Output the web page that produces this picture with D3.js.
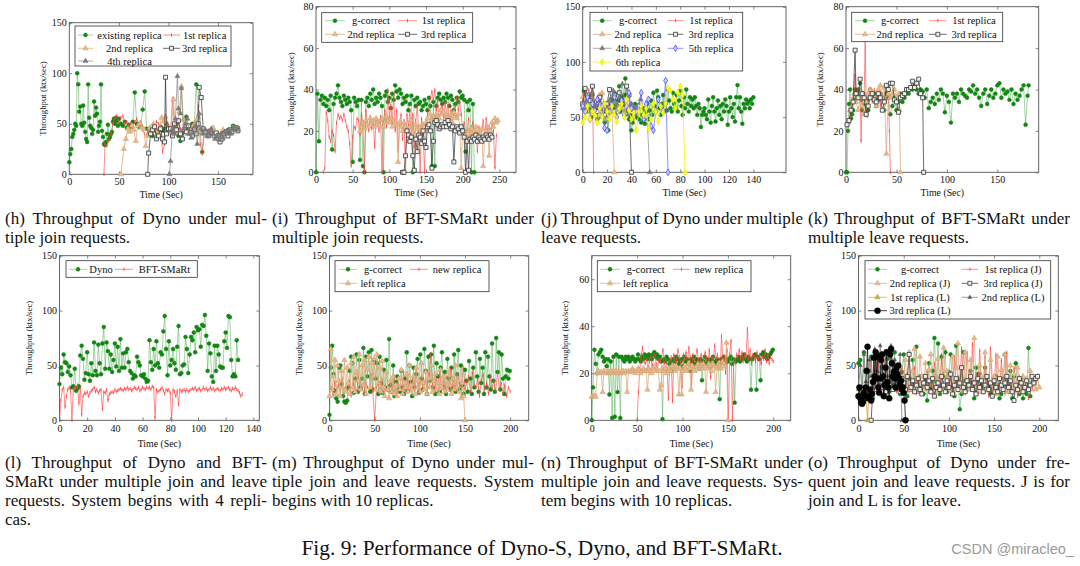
<!DOCTYPE html>
<html><head><meta charset="utf-8">
<script src="https://cdn.jsdelivr.net/npm/d3@7"></script>
<style>html,body{margin:0;padding:0;background:#fff;overflow:hidden}svg{display:block}</style>
</head><body><svg id="c" width="1080" height="566"></svg>
<script>
// ---------------- DATA ----------------
// (h) Dyno, multiple join
const hExisting=[[0,12],[1,20],[2,25],[3,37],[4,40],[5,44],[6,50],[7,48],[8,100],[9,89],[10,62],[11,67],[12,50],[13,48],[14,68],[15,51],[16,42],[17,35],[18,32],[19,89],[20,56],[21,48],[22,46],[23,40],[24,44],[25,72],[26,58],[27,66],[28,60],[29,42],[30,48],[31,52],[32,89],[33,43],[34,37],[35,30],[36,29],[37,32],[38,40],[39,49],[40,35],[41,37],[42,40],[43,42],[44,52],[45,55],[46,50],[47,56],[48,53],[49,48],[50,55],[52,50],[54,48],[56,52],[58,46],[60,49],[62,47],[64,52],[66,81],[68,50],[70,47],[72,48],[74,64],[76,82],[78,45],[80,40],[82,43],[84,38],[86,45],[88,42],[90,44],[92,47],[94,43],[96,45],[98,50],[100,46],[102,44],[104,47],[106,42],[108,45],[110,38],[112,33],[114,35],[116,44],[118,57],[120,44],[122,46],[124,50],[126,46],[128,89],[130,56],[132,42],[134,22],[136,44],[140,42],[145,40],[150,38],[155,42],[160,44],[165,48],[170,46]];
const hFirst=[[35,0],[36,30],[38,28],[40,34],[42,40],[44,50],[46,56],[48,58],[50,52],[52,56],[54,58],[56,50],[58,52],[60,48],[62,50],[64,46],[66,52],[68,55],[70,50],[72,52],[74,44],[76,40],[78,38],[80,45],[82,47],[84,42],[86,46],[88,52],[90,50],[92,48],[94,22],[96,30],[98,55],[100,48],[102,38],[104,75],[106,48],[108,42],[110,55],[112,45],[114,40],[116,48],[118,50],[120,46],[122,44],[124,48],[126,52],[128,45],[130,68],[132,30],[134,20],[136,42],[140,44],[145,42],[150,40],[155,38],[160,42],[165,45],[170,44]];
const hSecond=[[52,0],[55,25],[57,35],[59,45],[61,42],[63,48],[65,44],[67,33],[69,48],[71,50],[73,46],[75,45],[77,28],[79,38],[81,46],[83,44],[85,50],[87,43],[89,40],[91,46],[93,56],[95,52],[97,57],[99,45],[101,44],[103,48],[105,74],[107,44],[109,50],[111,62],[113,87],[115,54],[117,44],[119,40],[121,46],[123,42],[125,48],[127,50],[129,55],[131,42],[133,45],[135,44],[140,42],[145,46],[150,40],[155,44],[160,42],[165,46],[170,45]];
const hThird=[[79,0],[80,21],[82,40],[84,44],[86,47],[88,35],[90,38],[92,45],[94,35],[96,32],[97,96],[98,40],[100,45],[102,45],[104,38],[106,50],[108,44],[110,53],[112,40],[114,35],[116,44],[118,42],[120,48],[122,41],[124,38],[126,44],[128,40],[130,50],[131,86],[133,76],[135,45],[137,42],[140,38],[142,42],[144,40],[146,38],[148,41],[150,38],[152,32],[154,35],[156,40],[158,42],[160,38],[162,44],[164,42],[166,45],[168,46],[170,43]];
const hFourth=[[101,0],[102,13],[104,45],[106,40],[107,55],[109,97],[110,65],[112,60],[113,85],[115,45],[117,50],[119,55],[121,40],[123,36],[125,42],[127,48],[129,30],[131,60],[133,45],[135,40],[137,44],[139,38],[141,42],[143,45],[145,40],[147,35],[149,38],[151,34],[153,40],[155,36],[157,42],[159,40],[161,44],[163,40],[165,45],[167,47],[169,44]];

// (i) BFT-SMaRt, multiple join  (sampled every 2 s)
const iGreen=[0,38,15,35,37,33,36,32,35,30,37,11,33,36,38,42,36,34,32,37,35,33,36,34,30,5,36,34,32,35,6,35,3,0,34,36,32,38,35,40,33,36,34,38,36,32,0,37,39,34,36,31,38,35,42,39,36,40,38,33,36,34,37,30,33,37,0,35,32,36,33,34,30,32,35,33,30,36,32,3,34,3,32,36,38,35,33,36,34,38,36,32,37,35,30,33,36,34,39,36,37,35,10,34,30,35,0,33,0];
const iRed=[0,2,29,25,17,15,20,18,10,24,28,26,27,25,28,25,22,20,14,3,17,22,21,26,25,18,28,22,0,30,24,20,27,21,25,12,26,23,20,27,0,24,30,22,40,26,32,24,38,20,30,10,24,28,16,25,0,28,22,30,15,28,12,25,32,20,0,26,18,0,22,28,30,36,39,35,40,30,35,25,30,32,26,34,28,33,22,30,24,28,32,36,30,34,28,20,24,15,20,26,16,22,24,18,20,10,22,16,20,25,18,26,20,22,17,24,20,2,18];
const iTan=[20,22,24,21,25,23,22,26,24,25,22,26,24,23,25,26,22,24,27,25,24,26,22,25,24,23,5,24,22,20,24,22,21,15,22,25,20,18,23,21,10,22,19,23,20,24,26,22,28,25,27,26,28,27,26,30,28,29,26,28,27,26,28,24,29,27,26,28,22,2,22,20,18,16,20,18,21,17,20,22,18,20,16,21,3,18,20,22,8,20,24,22,26,24,25];
const iBlack=[0,0,8,20,18,15,17,8,1,16,10,18,17,14,20,15,12,22,23,20,2,15,24,25,23,21,22,23,22,24,22,25,23,21,22,5,20,22,21,19,22,20,17,0,15,1,16,15,17,16,18,15,17,16,15,17,16,18,17,16,18,17];

// (j) Dyno, multiple leave
const jGreen=[60,74,62,55,68,58,65,50,70,62,55,60,48,65,58,70,52,60,45,55,48,38,62,55,66,58,72,52,60,65,78,55,68,62,70,85,60,55,48,52,38,45,58,62,50,55,48,60,45,52,58,44,55,62,48,56,65,52,72,60,55,74,68,58,52,62,70,55,62,56,75,65,58,55,72,62,58,70,55,65,74,60,52,68,58,75,62,55,68,60,66,58,68,60,52,62,58,41,52,55,58,52,48,66,55,45,60,68,55,46,58,65,52,60,48,62,55,66,60,43,55,68,58,50,62,46,68,79,58,68,55,44,62,58,66,62,64,58,66,62,68];
const jRed=[65,70,72,60,68,75,65,72,78,0];
const jTan=[68,60,55,66,72,62,55,70,72,58,48,62,55,0];
const jBlack=[62,76,70,65,78,60,55,68,58,52,62,75,62,70,60,72,65,58,78,70,0];
const jGray=[58,64,55,72,60,66,50,62,58,66,74,60,68,80,56,52,62,58,60,66,48,58,0];
const jBlue=[60,55,68,48,62,56,66,52,60,40,38,55,60,68,50,56,65,52,60,72,58,50,55,60,72,48,62,66,42,38,55,66,60,56,83,0];
const jYellow=[45,50,60,48,55,52,45,58,50,62,55,48,60,52,46,58,62,50,66,56,48,54,38,55,60,52,58,40,48,62,55,46,60,54,62,76,74,66,58,72,78,70,0];

// (k) BFT-SMaRt, multiple leave
const kGreen=[[0,0],[1,0],[2,20],[3,33],[4,40],[5,26],[6,28],[7,30],[8,35],[9,40],[10,38],[11,36],[12,40],[13,36],[14,43],[15,35],[16,30],[17,38],[18,36],[19,33],[20,28],[21,35],[22,30],[23,38],[24,40],[25,37],[26,36],[28,38],[30,32],[32,35],[34,38],[36,36],[38,30],[40,38],[42,36],[44,28],[46,32],[48,36],[50,30],[52,34],[54,38],[56,34],[58,36],[60,40],[62,38],[64,41],[66,40],[68,42],[70,40],[72,38],[74,40],[76,39],[78,36],[80,40],[82,31],[84,34],[86,36],[88,33],[90,38],[92,35],[94,40],[96,38],[98,29],[100,37],[102,34],[104,24],[106,38],[108,36],[110,38],[112,34],[114,40],[116,38],[118,37],[120,36],[122,40],[124,39],[126,42],[128,38],[130,40],[132,36],[134,32],[136,38],[138,40],[140,33],[142,37],[144,40],[146,36],[148,38],[150,42],[152,43],[154,36],[156,40],[158,38],[160,39],[162,35],[164,40],[166,33],[168,38],[170,35],[172,37],[174,40],[176,42],[178,23],[180,37],[181,42]];
const kRed=[[2,22],[4,26],[6,32],[8,40],[9,47],[10,38],[12,40],[14,38],[15,15],[16,38],[18,35],[19,66],[20,30],[21,27],[22,36],[24,38],[26,35],[28,40],[30,36],[32,38],[34,32],[36,38],[38,36],[40,35],[42,38],[43,20],[44,0]];
const kTan=[[2,24],[4,30],[6,35],[8,38],[10,34],[12,30],[14,36],[16,32],[18,28],[20,34],[22,38],[24,40],[26,36],[28,34],[30,32],[32,40],[34,42],[36,36],[38,41],[40,9],[42,38],[44,36],[46,38],[48,40],[50,36],[52,38],[53,30],[54,0]];
const kBlack=[[1,23],[3,25],[5,30],[7,34],[9,59],[10,38],[12,36],[14,45],[16,38],[18,36],[20,28],[22,32],[24,36],[26,38],[28,35],[30,34],[32,38],[34,36],[36,30],[38,34],[40,42],[42,40],[44,43],[46,43],[48,35],[50,34],[52,29],[54,36],[56,37],[58,38],[60,40],[62,40],[64,41],[66,44],[68,41],[70,43],[72,45],[74,38],[76,36],[77,0]];

// (l) Dyno vs BFT-SMaRt (1 s samples)
const lDyno=[33,48,42,60,53,52,44,49,41,30,31,47,27,29,31,59,68,56,37,43,62,42,36,52,41,71,45,41,69,52,42,70,85,47,71,63,47,60,44,55,70,49,67,45,74,48,61,48,62,65,53,45,43,38,41,40,58,53,50,41,40,42,38,35,36,73,53,46,65,50,72,52,48,62,60,81,95,65,41,72,50,55,65,52,46,67,86,42,43,50,51,76,65,43,60,76,73,80,62,85,82,83,67,87,86,96,77,45,70,61,40,35,68,45,68,60,49,48,48,72,80,66,95,94,55,40,42,40,73,55];
const lBft=[0,18,28,30,12,22,28,30,27,0,28,30,30,32,15,30,5,22,25,24,26,22,25,27,28,30,26,28,25,27,28,10,26,25,28,18,24,25,26,25,28,26,27,28,29,28,27,29,28,30,28,29,27,28,30,29,28,30,27,28,30,29,28,30,29,30,28,31,30,2,28,26,27,28,30,27,24,28,27,28,25,0,28,26,22,27,14,28,26,27,28,26,28,26,27,28,29,28,30,27,28,29,27,28,30,28,29,27,28,30,28,29,27,28,29,28,27,29,28,30,28,29,30,28,27,29,28,30,28,27,25,22,24];

// (m) Dyno, join and leave
const mGreen=[5,48,68,42,27,20,17,48,50,33,22,17,16,18,30,45,58,52,25,38,60,26,55,30,38,66,24,58,40,62,26,64,28,55,38,52,24,58,34,25,46,30,55,28,74,32,26,50,22,35,40,28,26,45,30,24,38,62,27,50,35,22,48,30,42,56,25,60,38,28,65,45,24,58,36,60,30,68,24,52,40,26,48,62,30,44,24,56,38,28,48,30,60,26,42,64,28,50,32,24,46,36,26,54,38,24,48,30,62,40,26,56,34,48,24,62,30,58,40,28,70,36,26,75,44,62,28,60,38,24,40,46,38,45];
const mRed=[25,30,22,35,28,32,26,38,24,30,28,36,22,34,30,26,40,28,32,24,36,30,28,42,26,0,30,34,28,38,24,32,30,26,36,28,40,24,34,30,28,44,26,36,32,28,38,30,46,26,34,40,28,36,30,42,60,32,28,38,34,44,26,36,30,40,28,46,32,38,26,42,34,30,48,28,36,40,26,44,32,30,38,22,36,42,28,34,24,40,30,36,26,44,28,34,24,32,22,30,26];
const mTan=[22,65,28,40,55,24,50,36,22,45,30,55,26,48,34,24,52,30,58,26,44,36,60,28,50,32,55,24,46,58,30,52,40,56,28,60,34,48,26,54,30,22,44,28,20,36,26,40,24,32,22,38,28,46,24,34,30,42,26,50,32,28,40,24,48,30,36,26,52,34,28,44,24,38,30,50,26,36,42,28,34,24,46,30,40,26,36,28,44,32,24,38,28,50,30,36,26,20,34,22,0];

// (n) BFT-SMaRt, join and leave
const nGreen=[0,14,30,24,20,28,29,30,27,25,26,23,26,11,25,1,27,1.5,28,12,27,1,27,26,25,27,26,27,25,26,27,26,25,26,28,26,25,27,26,28,27,26,28,27,26,28,29,27,28,26,27,25,0.5,26,25,27,26,24,25,21,26,25,27,26,24,25,26,23,27,25,26,24,21,26,25,27,24,26,25,22,26,17,25,27,24,26,25,23,26,27,24,25,26,24,9,26,25,27,24,26,25,26,27,24,26,7.5,25,26,27,25,26,27,28,26,25,27,26,13,26,27,28,13,27,26,17,28,29,27,28,26,27,28,29,30];
const nRed=[0,12,22,28,31,25,24,26,22,25,27,23,26,28,24,22,26,25,27,30,24,26,22,9,25,27,8,28,24,26,30,27,25,14,28,26,29,24,31,27,15,28,25,27,30,26,24,28,22,27,29,26,24,30,18,27,25,32,26,28,24,22,36,25,27,20,30,0,28,34,0,26,24,28,27,30,26,29,25,28,27,39,26,30,24,28,27,25,29,26,28,24,27,26,30,25,28,24,27,26,25];
const nTan=[10,10,10.5,10,20,21,20,20.5,12,21,20,21,20,20.5,21,20,21,20.5,21,20,21,20,20.5,21,20,21,12,21,20.5,21,22,21,20,21,22,21,20,21,22,21,21,13,22,21,20,22,23,21,22,21,13,15,22,21,22,20,21,22,21,23,22,21,23,22,11,22,11,21,23,22,21,24,22,13,23,22,21,23,24,22,23,22,24,23,12,22,24,23,21,24,23,12,22,24,23,22,25,24,23,33,0];

// (o) Dyno, frequent join and leave
const oGreen=[52,55,30,62,22,28,45,58,20,36,60,25,38,48,22,30,56,26,40,32,62,28,35,24,44,60,30,22,38,28,55,34,67,26,40,30,24,38,18,52,28,45,75,35,70,24,58,40,62,26,44,60,30,22,68,38,10,24,62,36,28,30,45,35,20,48,42,42,32,26,48,38,30,24,22,34,40,28,20,24,38,60,32,26,45,20,40,52,28,24,38,20,30,24,66,22];
const oRedJ=[0,40,55,30,45,25,52,35,28,60,38,25,45,30,55,34,26,40,30,48,28,36,42,26,38,30,48,24,34,40,28,36,30,45,26,38,30,52,28,40,26,60,34,28,44,30,38,26,58,32,40,28,66,30,24,62,36,28,70,30,42,24,64,34,28,58,30,22,66,36,28,60,32,26,55,30,24,62,28,36,26,48,30,22,40,28,34,26,30,20,26,28,36];
const oTanJ=[40,55,30,62,28,45,65,35,26,58,40,30,52,28,46,60,32,40,26,56,34,28,66,30,45,38,28,58,24,48,70,32,40,26,62,36,28,55,30,75,34,26,50,40,28,62,30,36,55,28,40,24,58,32,46,28,60,36,26,50,30,42,28,48,34,26,40,30,38,28,45,32,36,28,40,30];
const oSqJ=[0,30,38,28,42,35,30,45,26,38,32,40,28,36,42,30,26,38,34,28,40,60,30,36,26,32,38,28,24,34,40,30,36,26,38,22,30,34,28,40,32,26,36,30,42,24,32,38,28,34,48,30,26,36,32,40,28,34,24,38,30,36,26,32,40,28,34,22,36,30,26,38,32,28,34,40,30,36,26,18,32,28,38,34,26,30,36,28,32,40,34,38,40];
const oOliveL=[[0,22],[2,25],[4,27],[6,24],[8,26],[10,0]];
const oGrayL=[28,50,22,60,35,25,55,40,30,65,45,28,68,50,35,62,40,30,68,45,55,40,30,60,0];
const oBlackL=[22,30,20,16,15,17,25,22,30,45,67,20,22,28,18,24,35,57,40,62,38,58,30,25,38,55,60,40,22,32,48,62,35,30,20,60,65,52,40,44,38,30,48,42,50,38,33,36,28,30,25,18,0];

const captionsTop=[
 ["(h) Throughput of Dyno under mul-","tiple join requests."],
 ["(i) Throughput of BFT-SMaRt under","multiple join requests."],
 ["(j) Throughput of Dyno under multiple","leave requests."],
 ["(k) Throughput of BFT-SMaRt under","multiple leave requests."]];
const captionsBottom=[
 ["(l) Throughput of Dyno and BFT-","SMaRt under multiple join and leave","requests. System begins with 4 repli-","cas."],
 ["(m) Throughput of Dyno under mul-","tiple join and leave requests. System","begins with 10 replicas."],
 ["(n) Throughput of BFT-SMaRt under","multiple join and leave requests. Sys-","tem begins with 10 replicas."],
 ["(o) Throughput of Dyno under fre-","quent join and leave requests. J is for","join and L is for leave."]];
const figTitle="Fig. 9: Performance of Dyno-S, Dyno, and BFT-SMaRt.";
const watermark="CSDN @miracleo_";

// ---------------- RENDER ----------------
const svg=d3.select('#c');
const SERIF='"Liberation Serif","Times New Roman",serif';
const reg=(t0,dt,vals)=>vals.map((v,i)=>[t0+i*dt,v]);

const barSym={draw(ctx,size){const h=Math.sqrt(size)/2;ctx.moveTo(0,-h);ctx.lineTo(0,h);}};
const STY={
 green:{line:'#3aa53a',lop:0.55,lw:0.85,sym:d3.symbolCircle,size:12,fill:'#138513',stroke:'#138513',sw:0.5},
 red:{line:'#ff4040',lop:0.8,lw:0.75,sym:barSym,size:12,fill:'none',stroke:'#ff4040',sw:0.8},
 tan:{line:'#dcaa7c',lop:0.9,lw:0.85,sym:d3.symbolTriangle,size:12,fill:'#e8b98d',stroke:'#cf9a68',sw:0.5},
 sq:{line:'#333',lop:0.85,lw:0.85,sym:d3.symbolSquare,size:16,fill:'#eeeeee',stroke:'#333',sw:0.8},
 gray:{line:'#8a8a8a',lop:0.9,lw:0.8,sym:d3.symbolTriangle,size:11,fill:'#7a7a7a',stroke:'#7a7a7a',sw:0.5},
 blue:{line:'#6e6eff',lop:0.9,lw:0.85,sym:d3.symbolDiamond,size:13,fill:'#c9c9ff',stroke:'#3c3cff',sw:0.7},
 yellow:{line:'#f2f200',lop:0.95,lw:0.85,sym:d3.symbolDiamond,size:13,fill:'#ffff00',stroke:'#e0e000',sw:0.5},
 olive:{line:'#bfb040',lop:0.9,lw:0.85,sym:d3.symbolTriangle,size:12,fill:'#c2b33e',stroke:'#a89a30',sw:0.5},
 graySm:{line:'#777',lop:0.9,lw:0.8,sym:d3.symbolTriangle,size:7,fill:'#555',stroke:'#555',sw:0.4},
 blackDot:{line:'#111',lop:0.9,lw:0.9,sym:d3.symbolCircle,size:28,fill:'#000',stroke:'#000',sw:0.5}
};

const panels=[
 {key:'h',L:69.3,R:253,T:22.7,B:174.3,xMax:185.2,yMax:150,xTicks:[0,50,100,150],yTicks:[0,50,100,150],ylabX:42.7,row:0,
  series:[['existing replica','green',hExisting],['1st replica','red',hFirst],['2nd replica','tan',hSecond],['3rd replica','sq',hThird],['4th replica','gray',hFourth]],
  leg:{x:75,y:26,w:156,h:40,rows:[9,22.3,35],cols:[[3,18,54.5],[88,105,129.7]]}},
 {key:'i',L:316,R:516,T:6.7,B:172.3,xMax:272.7,yMax:80,xTicks:[0,50,100,150,200,250],yTicks:[0,20,40,60,80],ylabX:290.7,row:0,
  series:[['g-correct','green',reg(0,2,iGreen)],['1st replica','red',reg(10,2,iRed)],['2nd replica','tan',reg(60,2,iTan)],['3rd replica','sq',reg(118,2,iBlack)]],
  leg:{x:321.7,y:12.7,w:151,h:29.6,rows:[8,21.6],cols:[[3.3,23.3,49.3],[76.3,95.3,121.8]]}},
 {key:'j',L:582.7,R:786,T:6.7,B:172.3,xMax:166.8,yMax:150,xTicks:[0,20,40,60,80,100,120,140],yTicks:[0,50,100,150],ylabX:552.7,row:0,
  series:[['g-correct','green',reg(0,1,jGreen)],['1st replica','red',reg(0,1,jRed)],['2nd replica','tan',reg(0,2,jTan)],['3rd replica','sq',reg(0,2,jBlack)],['4th replica','gray',reg(0,2.5,jGray)],['5th replica','blue',reg(0,2,jBlue)],['6th replica','yellow',reg(0,2,jYellow)]],
  leg:{x:590,y:12.3,w:152.7,h:58.7,rows:[8.4,22,36,49.7],cols:[[2.7,21.7,48],[77.7,93.3,121]]}},
 {key:'k',L:846,R:1038.7,T:6.7,B:172.3,xMax:191,yMax:80,xTicks:[0,50,100,150],yTicks:[0,20,40,60,80],ylabX:820,row:0,
  series:[['g-correct','green',kGreen],['1st replica','red',kRed],['2nd replica','tan',kTan],['3rd replica','sq',kBlack]],
  leg:{x:851.7,y:12.3,w:151,h:29.4,rows:[8.4,22],cols:[[3.3,23.3,48.3],[77.3,95,122.3]]}},
 {key:'l',L:59.5,R:259.3,T:255.7,B:420.3,xMax:144.3,yMax:150,xTicks:[0,20,40,60,80,100,120,140],yTicks:[0,50,100,150],ylabX:29,row:1,
  series:[['Dyno','green',reg(0,1,lDyno)],['BFT-SMaRt','red',reg(0,1,lBft)]],
  leg:{x:66,y:260.7,w:131.3,h:16.6,rows:[8.6],cols:[[3,21,35],[49,67,98.5]]}},
 {key:'m',L:329.5,R:528.7,T:255.7,B:420.3,xMax:220.5,yMax:150,xTicks:[0,50,100,150,200],yTicks:[0,50,100,150],ylabX:299,row:1,
  series:[['g-correct','green',reg(0,1.5,mGreen)],['new replica','red',reg(0,2,mRed)],['left replica','tan',reg(0,1.5,mTan)]],
  leg:{x:335,y:260.7,w:154,h:31,rows:[8.6,22.6],cols:[[4,22,48],[75,93,122]]}},
 {key:'n',L:591.7,R:790.7,T:255.7,B:420.3,xMax:219.2,yMax:70,xTicks:[0,50,100,150,200],yTicks:[0,20,40,60],ylabX:565,row:1,
  series:[['g-correct','green',reg(0,1.5,nGreen)],['new replica','red',reg(50,1.5,nRed)],['left replica','tan',reg(0,1.5,nTan)]],
  leg:{x:597.3,y:260.7,w:153.7,h:31,rows:[8.6,22.6],cols:[[2.7,22.7,48.4],[75.7,92.7,121.5]]}},
 {key:'o',L:858.5,R:1058.3,T:255.7,B:420.3,xMax:221,yMax:150,xTicks:[0,50,100,150,200],yTicks:[0,50,100,150],ylabX:828.3,row:1,
  series:[['g-correct','green',reg(0,2,oGreen)],['1st replica (J)','red',reg(10,2,oRedJ)],['2nd replica (J)','tan',reg(50,2,oTanJ)],['3rd replica (J)','sq',reg(14,2,oSqJ)],['1st replica (L)','olive',oOliveL],['2nd replica (L)','graySm',reg(0,2,oGrayL)],['3rd replica (L)','blackDot',reg(0,1,oBlackL)]],
  leg:{x:865,y:260.7,w:185.7,h:58.3,rows:[8.6,22.6,36.6,50],cols:[[3,22,55],[96.7,113,148]]}}
];

function drawMarkers(g,pts,st){
  const sym=d3.symbol().type(st.sym).size(st.size)();
  g.selectAll(null).data(pts).join('path').attr('d',sym)
   .attr('transform',d=>`translate(${d[0]},${d[1]})`)
   .attr('fill',st.fill).attr('stroke',st.stroke).attr('stroke-width',st.sw);
}

panels.forEach(p=>{
  const g=svg.append('g');
  const x=d3.scaleLinear().domain([0,p.xMax]).range([p.L,p.R]);
  const y=d3.scaleLinear().domain([0,p.yMax]).range([p.B,p.T]);
  const cid='clip-'+p.key;
  svg.append('clipPath').attr('id',cid).append('rect').attr('x',p.L-4).attr('y',p.T-4).attr('width',p.R-p.L+8).attr('height',p.B-p.T+8);
  const xo=p.row===0?3.2:4.6;
  const fixAx=sel=>{sel.select('.domain').remove();sel.selectAll('line').attr('stroke','#555').attr('stroke-width',0.7);
    sel.selectAll('text').attr('font-family',SERIF).attr('font-size',10).attr('fill','#111');};
  g.append('g').attr('transform',`translate(0,${p.B})`).call(d3.axisBottom(x).tickValues(p.xTicks).tickSizeInner(-3).tickSizeOuter(0).tickPadding(xo).tickFormat(d3.format('d'))).call(fixAx);
  g.append('g').attr('transform',`translate(0,${p.T})`).call(d3.axisTop(x).tickValues(p.xTicks).tickSizeInner(-3).tickSizeOuter(0).tickFormat('')).call(fixAx);
  g.append('g').attr('transform',`translate(${p.L},0)`).call(d3.axisLeft(y).tickValues(p.yTicks).tickSizeInner(-3).tickSizeOuter(0).tickPadding(2.5).tickFormat(d3.format('d'))).call(fixAx);
  g.append('g').attr('transform',`translate(${p.R},0)`).call(d3.axisRight(y).tickValues(p.yTicks).tickSizeInner(-3).tickSizeOuter(0).tickFormat('')).call(fixAx);
  g.append('rect').attr('x',p.L).attr('y',p.T).attr('width',p.R-p.L).attr('height',p.B-p.T).attr('fill','none').attr('stroke','#555').attr('stroke-width',0.9);
  g.append('text').attr('x',(p.L+p.R)/2).attr('y',p.B+(p.row===0?24:26.5)).attr('text-anchor','middle')
   .attr('font-family',SERIF).attr('font-size',9.8).attr('fill','#111').text('Time (Sec)');
  g.append('text').attr('transform',`translate(${p.ylabX},${(p.T+p.B)/2}) rotate(-90)`).attr('text-anchor','middle').attr('dominant-baseline','central')
   .attr('font-family',SERIF).attr('font-size',8.8).attr('fill','#111').text('Throughput (ktx/sec)');
  const pg=g.append('g').attr('clip-path',`url(#${cid})`);
  const line=d3.line().x(d=>x(d[0])).y(d=>y(d[1]));
  p.series.forEach(([name,sk,data])=>{
    const st=STY[sk];
    pg.append('path').attr('d',line(data)).attr('fill','none').attr('stroke',st.line).attr('stroke-opacity',st.lop).attr('stroke-width',st.lw).attr('stroke-linejoin','round');
    drawMarkers(pg.append('g'),data.map(d=>[x(d[0]),y(d[1])]),st);
  });
  const L=p.leg;
  const lg=g.append('g').attr('transform',`translate(${L.x},${L.y})`);
  lg.append('rect').attr('width',L.w).attr('height',L.h).attr('fill','#fff').attr('stroke','#333').attr('stroke-width',0.8);
  p.series.forEach(([name,sk],i)=>{
    const st=STY[sk];
    const r=Math.floor(i/2),c=i%2;
    const yy=L.rows[r],[s0,s1,tc]=L.cols[c];
    lg.append('line').attr('x1',s0).attr('x2',s1).attr('y1',yy).attr('y2',yy).attr('stroke',st.line).attr('stroke-opacity',st.lop).attr('stroke-width',st.lw);
    drawMarkers(lg.append('g'),[[(s0+s1)/2,yy]],st);
    lg.append('text').attr('x',tc).attr('y',yy).attr('dy','0.35em').attr('text-anchor','middle')
      .attr('font-family',SERIF).attr('font-size',10.5).attr('fill','#111').text(name);
  });
});

function caption(x,y0,lh,lines,W){
  lines.forEach((ln,i)=>{
    const t=svg.append('text').attr('x',x).attr('y',y0+i*lh).attr('font-family',SERIF).attr('font-size',17).attr('fill','#111').text(ln);
    if(i<lines.length-1){
      const nat=t.node().getComputedTextLength();
      const ns=(ln.match(/ /g)||[]).length;
      if(ns>0)t.style('word-spacing',((W-nat)/ns)+'px');
    }
  });
}
const colX=[5,272,541,808];
captionsTop.forEach((c,i)=>caption(colX[i],223.5,19.5,c,262));
captionsBottom.forEach((c,i)=>caption(colX[i],468,19,c,262));
svg.append('text').attr('x',542).attr('y',555).attr('text-anchor','middle').attr('font-family',SERIF).attr('font-size',21.4).attr('fill','#111').text(figTitle);
svg.append('text').attr('x',1074).attr('y',554).attr('text-anchor','end').attr('font-family','"Liberation Sans",Arial,sans-serif').attr('font-size',14.5).attr('fill','#9a9a9a').text(watermark);
</script></body></html>
